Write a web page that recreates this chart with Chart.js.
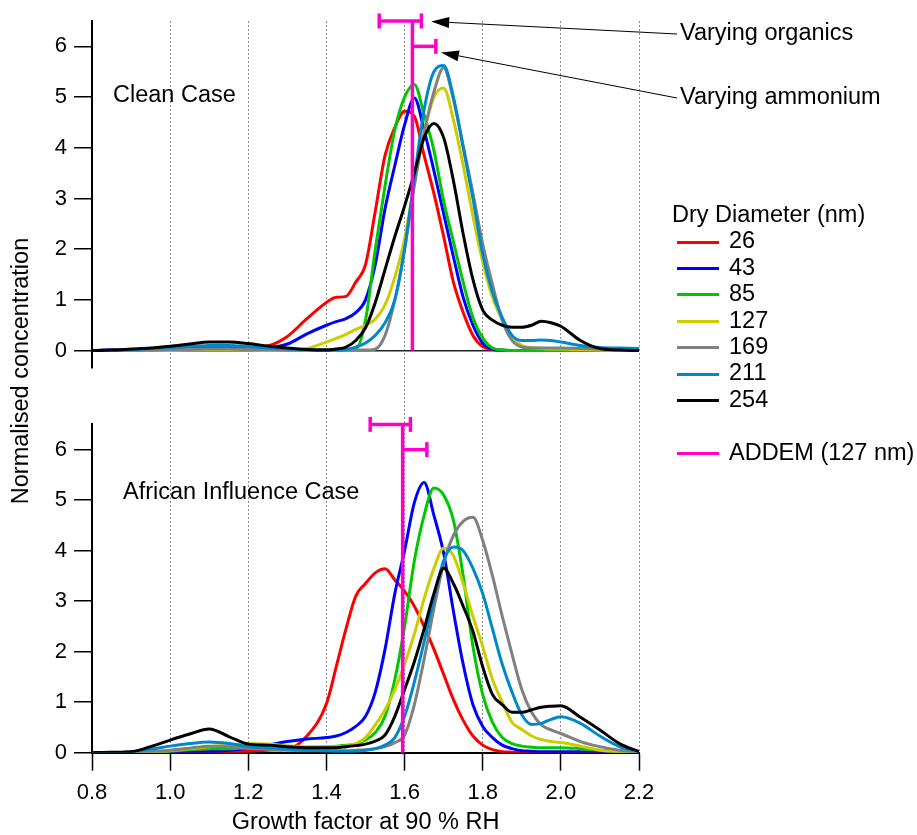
<!DOCTYPE html>
<html>
<head>
<meta charset="utf-8">
<title>Growth factor distributions</title>
<script src="https://cdn.jsdelivr.net/npm/chart.js@4.4.1/dist/chart.umd.min.js"></script>
<style>
  html, body { margin: 0; padding: 0; background: #fff; }
  #wrap { position: relative; width: 917px; height: 835px; overflow: hidden; }
  #gfChart { position: absolute; left: 0; top: 0; }
  #legend {
    position: absolute; left: 672px; top: 201px;
    font: 23.5px "Liberation Sans", Arial, sans-serif; color: #000;
  }
  #legend .row { height: 26.4px; line-height: 26.4px; white-space: nowrap; }
  #legend .swatch {
    display: inline-block; width: 42px; height: 3px;
    margin: 0 10px 0 5px; vertical-align: middle;
  }
</style>
</head>
<body>
<div id="wrap">
  <canvas id="gfChart" width="917" height="835"></canvas>
  <div id="legend"></div>
</div>
<script>
// ---------------- Data ---------------------------------------------------
const GROWTH_FACTOR = [
  0.80, 0.85, 0.90, 0.95, 1.00, 1.05, 1.10, 1.15, 1.20, 1.25,
  1.30, 1.35, 1.40, 1.425, 1.45, 1.475, 1.50, 1.525, 1.55, 1.575,
  1.60, 1.625, 1.65, 1.675, 1.70, 1.725, 1.75, 1.775, 1.80, 1.825,
  1.85, 1.875, 1.90, 1.925, 1.95, 1.975, 2.00, 2.05, 2.10, 2.15, 2.20
];

const DRY_DIAMETERS = [ '26', '43', '85', '127', '169', '211', '254' ];
const LINE_COLOURS  = [ '#ff0000', '#0000ff', '#00c800', '#cccc00', '#808080', '#0088cc', '#000000' ];

// Clean case
const CLEAN_26 = [
  0, 0.01, 0.01, 0.02, 0.03, 0.04, 0.05, 0.05, 0.05, 0.09,
  0.28, 0.63, 0.95, 1.05, 1.07, 1.35, 1.7, 2.75, 3.85, 4.4,
  4.72, 4.62, 3.85, 3.1, 2.25, 1.35, 0.75, 0.3, 0.08, 0.02,
  0, 0, 0, 0, 0, 0, 0, 0, 0, 0, 0
];
const CLEAN_43 = [
  0, 0.01, 0.01, 0.02, 0.03, 0.04, 0.05, 0.05, 0.05, 0.06,
  0.13, 0.33, 0.5, 0.57, 0.63, 0.75, 1.0, 1.7, 2.8, 3.65,
  4.45, 4.98, 4.35, 3.55, 2.7, 1.85, 1.05, 0.5, 0.15, 0.03,
  0.01, 0, 0, 0, 0, 0, 0, 0, 0, 0, 0
];
const CLEAN_85 = [
  0, 0, 0.01, 0.01, 0.02, 0.03, 0.03, 0.03, 0.03, 0.03,
  0.02, 0.02, 0.02, 0.02, 0.02, 0.03, 0.6, 2.0, 3.25, 4.35,
  5.0, 5.25, 4.65, 3.95, 2.95, 2.15, 1.35, 0.65, 0.25, 0.05,
  0.01, 0, 0, 0, 0, 0, 0, 0, 0, 0, 0
];
const CLEAN_127 = [
  0, 0, 0.01, 0.01, 0.01, 0.02, 0.02, 0.02, 0.02, 0.01,
  0.01, 0.04, 0.17, 0.24, 0.32, 0.42, 0.5, 0.62, 0.9, 1.45,
  2.2, 3.3, 4.3, 5.0, 5.18, 4.55, 3.65, 2.65, 1.75, 1.05,
  0.6, 0.28, 0.1, 0.06, 0.04, 0.03, 0.03, 0.02, 0.01, 0, 0
];
const CLEAN_169 = [
  0, 0, 0.01, 0.01, 0.02, 0.02, 0.03, 0.03, 0.02, 0.02,
  0.01, 0.01, 0.01, 0.01, 0.01, 0.01, 0.01, 0.03, 0.3, 1.0,
  2.0, 3.25, 4.3, 5.1, 5.58, 4.95, 4.05, 3.1, 2.1, 1.3,
  0.6, 0.2, 0.07, 0.05, 0.05, 0.05, 0.05, 0.04, 0.03, 0.02, 0.01
];
const CLEAN_211 = [
  0, 0.01, 0.02, 0.04, 0.06, 0.08, 0.1, 0.1, 0.08, 0.05,
  0.03, 0.02, 0.01, 0.01, 0.02, 0.07, 0.15, 0.3, 0.55, 1.0,
  2.0, 3.4, 4.75, 5.5, 5.62, 5.0, 4.0, 3.0, 1.9, 1.15,
  0.65, 0.3, 0.2, 0.2, 0.21, 0.2, 0.17, 0.1, 0.06, 0.05, 0.04
];
const CLEAN_254 = [
  0, 0.01, 0.03, 0.05, 0.085, 0.13, 0.17, 0.17, 0.14, 0.09,
  0.05, 0.02, 0.01, 0.03, 0.07, 0.2, 0.45, 0.95, 1.6, 2.25,
  2.85, 3.5, 4.2, 4.48, 4.2, 3.35, 2.3, 1.4, 0.8, 0.6,
  0.5, 0.46, 0.46, 0.5, 0.58, 0.55, 0.48, 0.2, 0.04, 0.01, 0
];

// African influence case
const AFRICAN_26 = [
  0, 0, 0, 0.01, 0.01, 0.02, 0.02, 0.02, 0.03, 0.05,
  0.07, 0.33, 0.97, 1.7, 2.45, 3.1, 3.35, 3.56, 3.64, 3.42,
  3.2, 2.9, 2.5, 2.05, 1.55, 1.05, 0.64, 0.33, 0.15, 0.06,
  0.02, 0.01, 0, 0, 0, 0, 0, 0, 0, 0, 0
];
const AFRICAN_43 = [
  0, 0, 0, 0, 0.01, 0.01, 0.02, 0.05, 0.09, 0.15,
  0.22, 0.27, 0.3, 0.33, 0.4, 0.52, 0.72, 1.2, 2.05, 3.15,
  4.0, 4.95, 5.35, 4.7, 3.95, 2.8, 1.75, 0.95, 0.52, 0.3,
  0.15, 0.08, 0.04, 0.03, 0.02, 0.02, 0.02, 0.02, 0.01, 0, 0
];
const AFRICAN_85 = [
  0, 0, 0, 0.01, 0.03, 0.06, 0.08, 0.08, 0.1, 0.1,
  0.1, 0.11, 0.12, 0.13, 0.15, 0.17, 0.25, 0.4, 0.72, 1.45,
  2.5, 3.8, 4.7, 5.24, 5.1, 4.6, 3.5, 2.1, 1.15, 0.6,
  0.3, 0.18, 0.13, 0.11, 0.1, 0.1, 0.1, 0.08, 0.05, 0.02, 0
];
const AFRICAN_127 = [
  0, 0, 0.01, 0.02, 0.04, 0.08, 0.12, 0.15, 0.18, 0.17,
  0.14, 0.12, 0.12, 0.12, 0.13, 0.18, 0.3, 0.55, 0.85, 1.25,
  1.75, 2.35, 3.05, 3.65, 4.05, 3.9, 3.35, 2.7, 2.1, 1.45,
  1.0, 0.6, 0.46, 0.33, 0.26, 0.22, 0.2, 0.13, 0.05, 0.02, 0
];
const AFRICAN_169 = [
  0, 0, 0.01, 0.02, 0.05, 0.09, 0.13, 0.12, 0.09, 0.07,
  0.05, 0.04, 0.04, 0.04, 0.04, 0.05, 0.06, 0.08, 0.12, 0.2,
  0.35, 0.95, 1.85, 2.85, 3.75, 4.3, 4.58, 4.66, 4.2, 3.5,
  2.7, 1.95, 1.25, 0.8, 0.55, 0.45, 0.38, 0.22, 0.12, 0.05, 0.01
];
const AFRICAN_211 = [
  0, 0, 0.02, 0.07, 0.13, 0.18, 0.21, 0.18, 0.12, 0.1,
  0.07, 0.05, 0.04, 0.03, 0.03, 0.03, 0.05, 0.08, 0.15, 0.3,
  0.72, 1.4, 2.2, 3.05, 3.8, 4.07, 4.0, 3.65, 3.15, 2.45,
  1.75, 1.2, 0.75, 0.56, 0.58, 0.66, 0.71, 0.58, 0.33, 0.12, 0.02
];
const AFRICAN_254 = [
  0, 0.01, 0.02, 0.12, 0.25, 0.37, 0.47, 0.32, 0.17, 0.15,
  0.12, 0.1, 0.1, 0.1, 0.12, 0.14, 0.17, 0.23, 0.35, 0.72,
  1.25, 1.8, 2.45, 3.15, 3.65, 3.35, 2.9, 2.4, 1.7, 1.15,
  0.95, 0.8, 0.8, 0.85, 0.9, 0.92, 0.93, 0.7, 0.45, 0.18, 0.02
];

const CLEAN_SERIES   = [ CLEAN_26, CLEAN_43, CLEAN_85, CLEAN_127, CLEAN_169, CLEAN_211, CLEAN_254 ];
const AFRICAN_SERIES = [ AFRICAN_26, AFRICAN_43, AFRICAN_85, AFRICAN_127, AFRICAN_169, AFRICAN_211, AFRICAN_254 ];

// ADDEM (127 nm) prediction and its range when organics / ammonium vary
const ADDEM_CLEAN            = 1.62;
const ADDEM_CLEAN_ORGANICS   = [ 1.535, 1.643 ];
const ADDEM_CLEAN_AMMONIUM   = [ 1.62, 1.68 ];
const ADDEM_AFRICAN          = 1.595;
const ADDEM_AFRICAN_ORGANICS = [ 1.512, 1.615 ];
const ADDEM_AFRICAN_AMMONIUM = [ 1.595, 1.657 ];
const ADDEM_BAR_LEVELS       = [ 6.5, 6.0 ];

const X_TICKS = [ 0.8, 1.0, 1.2, 1.4, 1.6, 1.8, 2.0, 2.2 ];
const Y_TICKS = [ 0, 1, 2, 3, 4, 5, 6 ];

// ---------------- Styling ------------------------------------------------
const FONT_FAMILY = '"Liberation Sans", Arial, sans-serif';
const TICK_FONT   = { family: FONT_FAMILY, size: 22, lineHeight: 1 };
const TEXT_FONT   = { family: FONT_FAMILY, size: 23.5, lineHeight: 1 };
const MAGENTA     = '#ff00cc';
const NO_COLOUR   = 'rgba(0,0,0,0)';

// free text inside the plot, in canvas pixels
const PANEL_LABELS = [
  { text: 'Clean Case',             left: 113, middle: 96 },
  { text: 'African Influence Case', left: 123, middle: 493 },
];
const RANGE_NOTES = [
  { text: 'Varying organics', left: 680, middle: 34, tip: [ 1.668, 6.49 ] },
  { text: 'Varying ammonium', left: 680, middle: 98, tip: [ 1.693, 5.88 ] },
];

// ---------------- Datasets -----------------------------------------------
function curveDataset( values, i, axisId ) {
  return {
    label            : DRY_DIAMETERS[i],
    data             : values,
    yAxisID          : axisId,
    borderColor      : LINE_COLOURS[i],
    backgroundColor  : LINE_COLOURS[i],
    borderWidth      : 3,
    pointRadius      : 0,
    cubicInterpolationMode : 'monotone',
    order            : DRY_DIAMETERS.length - i,
  };
}

function addemDatasets( centre, organics, ammonium, axisId ) {
  const common = {
    yAxisID          : axisId,
    borderColor      : MAGENTA,
    backgroundColor  : MAGENTA,
    borderWidth      : 3.5,
    pointStyle       : 'line',
    pointRotation    : 90,
    pointBorderColor : MAGENTA,
    pointBorderWidth : 3.5,
    clip             : false,
    order            : 0,
  };
  return [
    { ...common, label: 'ADDEM (127 nm)', pointRadius: 0,
      data: [ { x: centre, y: 0 }, { x: centre, y: ADDEM_BAR_LEVELS[0] } ] },
    { ...common, label: 'organics', pointRadius: 7.5,
      data: [ { x: organics[0], y: ADDEM_BAR_LEVELS[0] }, { x: organics[1], y: ADDEM_BAR_LEVELS[0] } ] },
    { ...common, label: 'ammonium', pointRadius: [ 0, 7.5 ],
      data: [ { x: ammonium[0], y: ADDEM_BAR_LEVELS[1] }, { x: ammonium[1], y: ADDEM_BAR_LEVELS[1] } ] },
  ];
}

const datasets = [];
CLEAN_SERIES.forEach( ( s, i ) => datasets.push( curveDataset( s, i, 'yClean' ) ) );
AFRICAN_SERIES.forEach( ( s, i ) => datasets.push( curveDataset( s, i, 'yAfrican' ) ) );
datasets.push( ...addemDatasets( ADDEM_CLEAN, ADDEM_CLEAN_ORGANICS, ADDEM_CLEAN_AMMONIUM, 'yClean' ) );
datasets.push( ...addemDatasets( ADDEM_AFRICAN, ADDEM_AFRICAN_ORGANICS, ADDEM_AFRICAN_AMMONIUM, 'yAfrican' ) );

// ---------------- Scales -------------------------------------------------
function fixedTicks( values ) {
  return axis => { axis.ticks = values.map( v => ( { value: v } ) ) ; } ;
}

function panelAxis( min, weight, stackWeight, zeroLine ) {
  return {
    type        : 'linear',
    position    : 'left',
    stack       : 'panels',
    stackWeight : stackWeight,
    weight      : weight,
    min         : min,
    max         : 6.5,
    afterBuildTicks : fixedTicks( Y_TICKS ),
    ticks : { font: TICK_FONT, color: '#000', padding: 7 },
    grid  : {
      drawOnChartArea : zeroLine,
      color     : ctx => ( ctx.tick && ctx.tick.value === 0 ) ? '#222' : NO_COLOUR,
      lineWidth : 1.5,
      tickColor : '#000',
      tickLength: 18,
      tickWidth : 1.5,
    },
    border : { color: '#000', width: 2 },
  } ;
}

const scales = {
  x : {
    type : 'linear',
    min  : 0.8,
    max  : 2.2,
    afterBuildTicks : fixedTicks( X_TICKS ),
    // fit() counts the label padding twice, so pin the band height
    afterFit : axis => { axis.height = 82.3 ; },
    ticks : {
      font: TICK_FONT, color: '#000', padding: 11.3, maxRotation: 0, autoSkip: false,
      callback: v => v.toFixed( 1 ),
    },
    grid : {
      color     : ctx => ( ctx.tick && ctx.tick.value > 0.8 ) ? '#8a8a8a' : NO_COLOUR,
      lineWidth : 1,
      tickColor : '#000',
      tickLength: 18,
      tickWidth : 1.5,
    },
    // in v4 the dash here styles the grid lines, the axis line stays solid
    border : { color: '#000', width: 2, dash: [ 2, 2 ] },
    title  : {
      display: true, text: 'Growth factor at 90 % RH', color: '#000',
      font: TEXT_FONT, padding: { top: 0, bottom: 0.5 },
    },
  },
  yClean   : panelAxis( -0.33, 3, 346, true ),
  // empty band between the two panels
  gap : {
    type: 'linear', position: 'left', stack: 'panels', stackWeight: 57, weight: 2,
    display: true, min: 0, max: 1,
    ticks: { display: false }, grid: { display: false }, border: { display: false },
  },
  yAfrican : panelAxis( 0, 1, 328, false ),
};

// ---------------- Text and arrows ----------------------------------------
function drawArrow( ctx, x0, y0, x1, y1 ) {
  const angle = Math.atan2( y1 - y0, x1 - x0 );
  const headLen = 18, headHalf = 5.5;
  const bx = x1 - headLen * Math.cos( angle );
  const by = y1 - headLen * Math.sin( angle );
  ctx.beginPath();
  ctx.moveTo( x0, y0 );
  ctx.lineTo( bx, by );
  ctx.stroke();
  ctx.beginPath();
  ctx.moveTo( x1, y1 );
  ctx.lineTo( bx + headHalf * Math.sin( angle ), by - headHalf * Math.cos( angle ) );
  ctx.lineTo( bx - headHalf * Math.sin( angle ), by + headHalf * Math.cos( angle ) );
  ctx.closePath();
  ctx.fill();
}

const notesPlugin = {
  id : 'panelNotes',
  afterDraw( chart ) {
    const ctx = chart.ctx;
    const xs = chart.scales.x;
    const ys = chart.scales.yClean;

    ctx.save();
    ctx.font = TEXT_FONT.size + 'px ' + FONT_FAMILY;
    ctx.fillStyle = '#000';
    ctx.strokeStyle = '#000';
    ctx.lineWidth = 1;
    ctx.textAlign = 'left';
    ctx.textBaseline = 'middle';

    PANEL_LABELS.forEach( p => ctx.fillText( p.text, p.left, p.middle ) );

    RANGE_NOTES.forEach( n => {
      ctx.fillText( n.text, n.left, n.middle );
      drawArrow( ctx, n.left - 3, n.middle,
                 xs.getPixelForValue( n.tip[0] ), ys.getPixelForValue( n.tip[1] ) );
    } );

    ctx.translate( 22, 371 );
    ctx.rotate( -Math.PI / 2 );
    ctx.textAlign = 'center';
    ctx.fillText( 'Normalised concentration', 0, 0 );
    ctx.restore();
  }
};

// ---------------- Chart --------------------------------------------------
new Chart( document.getElementById( 'gfChart' ), {
  type : 'line',
  data : { labels: GROWTH_FACTOR, datasets: datasets },
  options : {
    responsive : false,
    animation  : false,
    layout     : { padding: { left: 47.8, right: 278, top: 21, bottom: 0 } },
    plugins    : { legend: { display: false }, tooltip: { enabled: false } },
    scales     : scales,
  },
  plugins : [ notesPlugin ],
} );

// ---------------- Legend -------------------------------------------------
function buildLegend() {
  const box = document.getElementById( 'legend' );
  let html = '<div class="row">Dry Diameter (nm)</div>';
  DRY_DIAMETERS.forEach( ( d, i ) => {
    html += '<div class="row"><span class="swatch" style="background:' + LINE_COLOURS[i] + '"></span>' + d + '</div>';
  } );
  html += '<div class="row"></div>';
  html += '<div class="row"><span class="swatch" style="background:' + MAGENTA + '"></span>ADDEM (127 nm)</div>';
  box.innerHTML = html;
}
buildLegend();
</script>
</body>
</html>
